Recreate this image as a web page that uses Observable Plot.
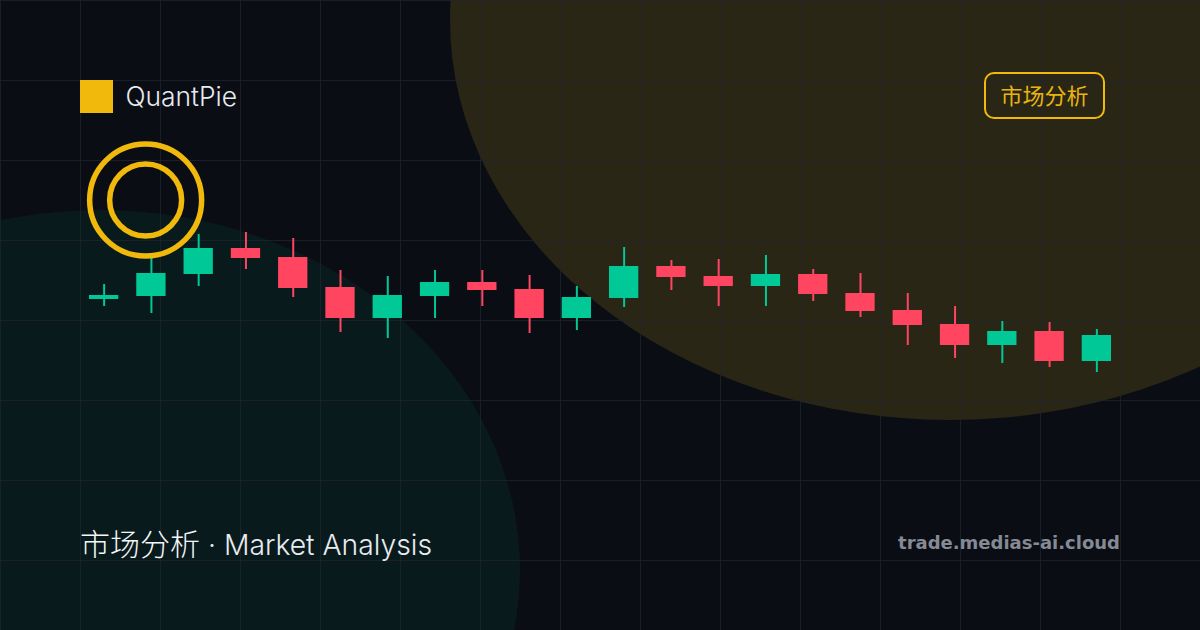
<!DOCTYPE html>
<html>
<head>
<meta charset="utf-8">
<script src="https://cdn.jsdelivr.net/npm/d3@7"></script>
<script src="https://cdn.jsdelivr.net/npm/@observablehq/plot@0.6"></script>
<style>
  html, body { margin: 0; padding: 0; background: #0a0d14; }
  #stage { position: relative; width: 1200px; height: 630px; overflow: hidden; background: #0a0d14; }
  #stage svg { position: absolute; left: 0; top: 0; background: transparent; }
  .blob { position: absolute; border-radius: 50%; }
  .blob.gold { left: 450px; top: -380px; width: 1000px; height: 800px; background: rgba(232,190,30,0.14); }
  .blob.teal { left: -320px; top: 210px; width: 840px; height: 720px; background: rgba(0,200,150,0.07); }
  .label { position: absolute; white-space: nowrap; }
  .mark { left: 80px; top: 80px; width: 33px; height: 33px; background: #f0b90b; }
  .brand { left: 125.5px; top: 79px; font: 300 26.4px/34px Inter, sans-serif; color: #e8ebf0; }
  .pill { left: 984px; top: 72px; width: 117px; height: 43px; border: 2px solid #f0b90b; border-radius: 10px; font: 400 22px/40px "Noto Sans CJK SC", sans-serif; color: #e8b414; text-align: center; }
  .title { left: 80px; top: 523px; font: 300 28.3px/42px Inter, "Noto Sans CJK SC", sans-serif; color: #e8ebf0; }
  .title .cjk { font-size: 30px; color: #f4f6f8; }
  .site { right: 80px; top: 530px; font: 700 18px/26px "DejaVu Sans", sans-serif; color: #858a94; }
</style>
</head>
<body>
<div id="stage">
  <div class="blob gold"></div>
  <div class="blob teal"></div>
  <div id="chart"></div>
  <div class="label mark"></div>
  <div class="label brand">QuantPie</div>
  <div class="label pill">市场分析</div>
  <div class="label title"><span class="cjk">市场分析</span> · Market Analysis</div>
  <div class="label site">trade.medias-ai.cloud</div>
</div>
<script>
const sessions = d3.range(22);
const opens  = [331, 334, 356, 382, 373, 343, 312, 334, 348, 341, 312, 332, 364, 354, 344, 356, 337, 320, 306, 285, 299, 269];
const closes = [335, 357, 382, 372, 342, 312, 335, 348, 340, 312, 333, 364, 353, 344, 356, 336, 319, 305, 285, 299, 269, 295];
const highs  = [346, 374, 396, 398, 392, 360, 354, 360, 360, 355, 344, 383, 370, 371, 375, 361, 357, 337, 324, 309, 308, 301];
const lows   = [324, 317, 344, 361, 333, 298, 292, 312, 324, 297, 300, 323, 340, 324, 324, 329, 313, 285, 272, 267, 263, 258];
const gridColumns = d3.range(0, 15);
const gridRows = [70, 150, 230, 310, 390, 470, 550, 630];
const ringCentre = { session: 0.878, price: 430.5 };
const ringRadii = [56, 36];

const candles = sessions.map((s, k) => ({
  session: s, open: opens[k], close: closes[k], high: highs[k], low: lows[k],
  up: closes[k] >= opens[k]
}));

const step = 1040 / 22;
const colour = d => d.up ? "#00c896" : "#ff4560";
const columnToSession = c => -0.5 + (c - 1) * 80 / step;

document.getElementById("chart").append(Plot.plot({
  width: 1200, height: 630,
  margin: 0,
  style: { background: "transparent" },
  x: { type: "linear", domain: [-0.5 - 80 / step, 21.5 + 80 / step], axis: null },
  y: { domain: [0, 630], axis: null },
  marks: [
    Plot.ruleX(gridColumns, { x: columnToSession, stroke: "#20242c", strokeOpacity: 0.75, strokeWidth: 1 }),
    Plot.ruleY(gridRows, { stroke: "#20242c", strokeOpacity: 0.75, strokeWidth: 1 }),
    Plot.ruleX(candles, { x: "session", y1: "low", y2: "high", stroke: colour, strokeWidth: 2 }),
    Plot.rect(candles, {
      x1: d => d.session - 0.31, x2: d => d.session + 0.31,
      y1: "open", y2: "close", fill: colour
    }),
    ...ringRadii.map(r => Plot.dot([ringCentre], {
      x: "session", y: "price", r, stroke: "#f0b90b", strokeWidth: 5.5, fill: "none"
    }))
  ]
}));
</script>
</body>
</html>
